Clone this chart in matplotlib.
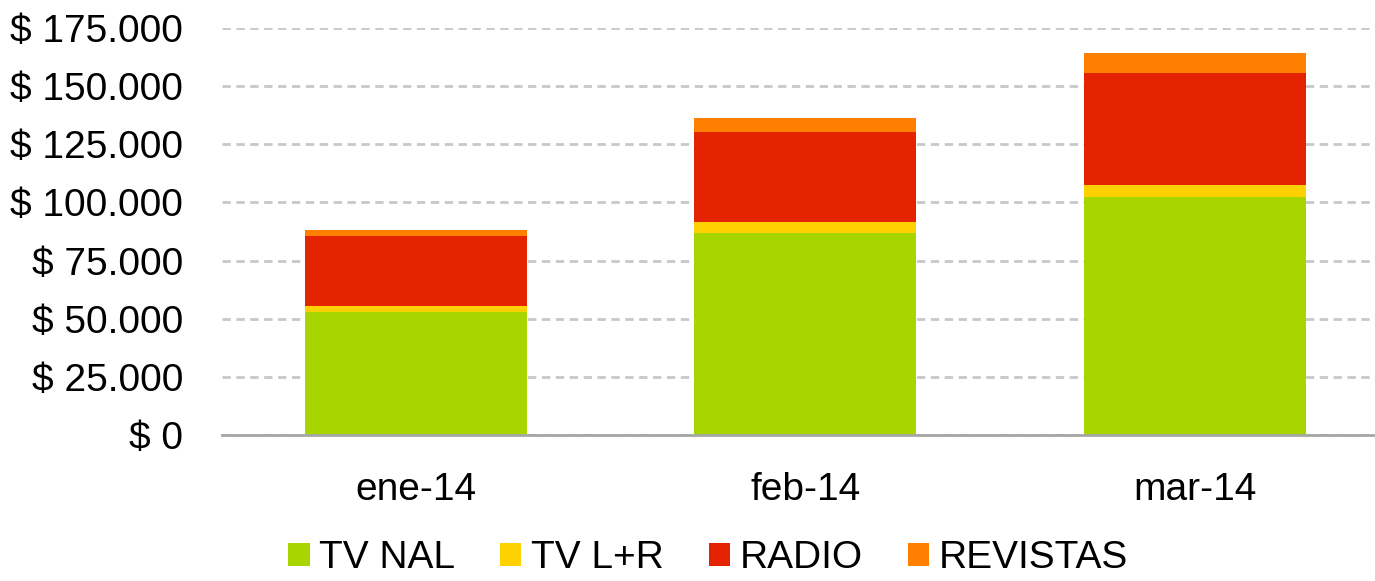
import numpy as np
import matplotlib
matplotlib.use("Agg")
import matplotlib.pyplot as plt
from matplotlib.ticker import FuncFormatter
from matplotlib.patches import Patch

# inversion por mes, en pesos
meses = ["ene-14", "feb-14", "mar-14"]
tv_nal = [53000, 86700, 102500]
tv_lr = [2500, 4900, 4900]
radio = [30100, 38700, 48300]
revistas = [2450, 6000, 8500]

series = ["TV NAL", "TV L+R", "RADIO", "REVISTAS"]
colores = ["#A8D400", "#FFD100", "#E42400", "#FF7F00"]

plt.rcParams["font.family"] = ["Liberation Sans", "DejaVu Sans"]

fig = plt.figure(figsize=(13.75, 5.81), dpi=100)
ax = fig.add_axes([0.1615, 0.2513, 0.8385, 0.7005])

x = np.arange(len(meses))
base = np.zeros(len(meses))
for vals, col in zip([tv_nal, tv_lr, radio, revistas], colores):
    ax.bar(x, vals, width=0.57, bottom=base, color=col, zorder=3)
    base = base + np.array(vals)

ax.set_ylim(0, 175000)
ax.set_xlim(-0.498, 2.463)
ax.set_yticks(np.arange(0, 175001, 25000))
ax.yaxis.set_major_formatter(FuncFormatter(lambda v, p: "$ " + f"{int(v):,}".replace(",", ".")))
ax.set_xticks(x)
ax.set_xticklabels(meses)

ax.grid(axis="y", color="#C8C8C8", linestyle=(0, (3, 2)), linewidth=2, zorder=0)
for s in ["top", "right", "left"]:
    ax.spines[s].set_visible(False)
ax.spines["bottom"].set_color("#A6A6A6")
ax.spines["bottom"].set_linewidth(2)
ax.spines["bottom"].set_zorder(4)
ax.tick_params(axis="y", length=0, pad=28, labelsize=28)
ax.tick_params(axis="x", length=0, pad=27, labelsize=28)

handles = [Patch(facecolor=c, label=s) for s, c in zip(series, colores)]
fig.legend(handles=handles, loc="lower center", bbox_to_anchor=(0.515, -0.052), ncol=4,
           frameon=False, fontsize=28, handlelength=0.55, handleheight=0.55,
           handletextpad=0.25, columnspacing=1.15)

fig.savefig("out.png", dpi=100)
